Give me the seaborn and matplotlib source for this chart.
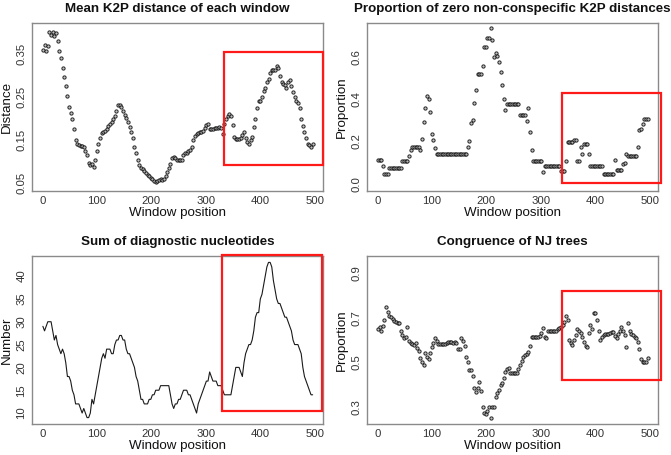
import numpy as np
import pandas as pd
import seaborn as sns
import matplotlib
matplotlib.use("Agg")
import matplotlib.pyplot as plt
from matplotlib.patches import Rectangle

sns.set_style("white")
plt.rcParams['font.family'] = ['Liberation Sans', 'DejaVu Sans']

# ---------------- data (window positions 1, 4, 7, ... 496) ----------------
mean_k2p = [
    0.360, 0.372, 0.358, 0.368, 0.400, 0.395, 0.402, 0.392, 0.398, 0.380,
    0.358, 0.340, 0.318, 0.297, 0.275, 0.252, 0.228, 0.214, 0.200, 0.176,
    0.150, 0.140, 0.139, 0.137, 0.136, 0.134, 0.126, 0.116, 0.098, 0.092,
    0.095, 0.088, 0.105, 0.124, 0.140, 0.155, 0.166, 0.170, 0.171, 0.175,
    0.182, 0.188, 0.192, 0.198, 0.206, 0.218, 0.232, 0.232, 0.226, 0.218,
    0.208, 0.202, 0.193, 0.180, 0.170, 0.155, 0.135, 0.120, 0.105, 0.092,
    0.086, 0.082, 0.078, 0.073, 0.070, 0.066, 0.062, 0.059, 0.056, 0.052,
    0.055, 0.058, 0.060, 0.058, 0.060, 0.066, 0.075, 0.085, 0.095, 0.108,
    0.112, 0.108, 0.104, 0.103, 0.103, 0.104, 0.115, 0.120, 0.120, 0.125,
    0.128, 0.134, 0.150, 0.160, 0.164, 0.166, 0.168, 0.170, 0.172, 0.178,
    0.185, 0.188, 0.175, 0.175, 0.177, 0.178, 0.178, 0.179, 0.180, 0.178,
    0.165, 0.188, 0.200, 0.207, 0.210, 0.206, 0.185, 0.158, 0.152, 0.152,
    0.152, 0.155, 0.162, 0.168, 0.155, 0.145, 0.142, 0.150, 0.158, 0.180,
    0.200, 0.225, 0.240, 0.242, 0.250, 0.265, 0.272, 0.285, 0.292, 0.305,
    0.312, 0.314, 0.312, 0.322, 0.318, 0.300, 0.285, 0.280, 0.278, 0.272,
    0.285, 0.290, 0.275, 0.262, 0.250, 0.240, 0.236, 0.225, 0.200, 0.182,
    0.168, 0.155, 0.142, 0.138, 0.135, 0.142,
]

zero_prop = [
    0.114, 0.114, 0.114, 0.084, 0.044, 0.044, 0.044, 0.074, 0.074, 0.074,
    0.074, 0.074, 0.074, 0.074, 0.074, 0.107, 0.107, 0.107, 0.107, 0.130,
    0.160, 0.174, 0.174, 0.174, 0.174, 0.174, 0.160, 0.210, 0.290, 0.360,
    0.415, 0.400, 0.340, 0.237, 0.205, 0.170, 0.139, 0.139, 0.139, 0.139,
    0.139, 0.139, 0.139, 0.139, 0.139, 0.139, 0.139, 0.139, 0.139, 0.139,
    0.139, 0.139, 0.139, 0.139, 0.139, 0.174, 0.200, 0.285, 0.300, 0.380,
    0.445, 0.518, 0.518, 0.518, 0.556, 0.645, 0.645, 0.690, 0.690, 0.735,
    0.680, 0.600, 0.620, 0.605, 0.577, 0.530, 0.466, 0.400, 0.348, 0.379,
    0.379, 0.379, 0.379, 0.379, 0.379, 0.379, 0.379, 0.327, 0.327, 0.327,
    0.327, 0.297, 0.360, 0.245, 0.158, 0.107, 0.107, 0.107, 0.107, 0.107,
    0.107, 0.055, 0.085, 0.085, 0.085, 0.085, 0.085, 0.085, 0.085, 0.085,
    0.085, 0.085, 0.060, 0.060, 0.060, 0.107, 0.197, 0.197, 0.197, 0.197,
    0.208, 0.208, 0.107, 0.107, 0.174, 0.142, 0.190, 0.190, 0.190, 0.142,
    0.085, 0.085, 0.085, 0.085, 0.085, 0.085, 0.085, 0.085, 0.044, 0.044,
    0.044, 0.044, 0.044, 0.044, 0.044, 0.114, 0.066, 0.066, 0.066, 0.066,
    0.095, 0.100, 0.142, 0.133, 0.133, 0.133, 0.133, 0.133, 0.133, 0.174,
    0.253, 0.260, 0.284, 0.305, 0.305, 0.305,
]

diag_sum = [
    29, 28, 29, 30, 30, 30, 28, 26, 27, 25,
    24, 23, 24, 23, 21, 18, 18, 17, 15, 14,
    12, 12, 12, 11, 10, 11, 10, 9, 9, 10,
    13, 12, 14, 16, 18, 20, 22, 23, 22, 24,
    24, 24, 23, 23, 25, 26, 26, 27, 27, 26,
    26, 24, 23, 23, 22, 21, 20, 18, 17, 15,
    13, 13, 12, 12, 12, 13, 13, 14, 14, 15,
    15, 15, 16, 16, 16, 16, 16, 16, 14, 12,
    11, 12, 12, 13, 13, 14, 15, 15, 15, 14,
    14, 13, 12, 11, 10, 12, 13, 14, 15, 16,
    17, 17, 19, 18, 17, 17, 17, 16, 16, 16,
    15, 14, 14, 14, 14, 14, 16, 18, 20, 20,
    20, 19, 18, 21, 23, 24, 25, 25, 26, 28,
    31, 32, 32, 35, 36, 38, 40, 42, 43, 43,
    42, 39, 37, 35, 34, 34, 33, 32, 31, 31,
    30, 29, 28, 26, 25, 25, 25, 24, 23, 20,
    18, 17, 16, 15, 14, 14,
]

nj_congruence = [
    0.650, 0.660, 0.640, 0.665, 0.690, 0.747, 0.725, 0.710, 0.705, 0.695,
    0.686, 0.680, 0.676, 0.675, 0.640, 0.622, 0.610, 0.612, 0.660, 0.595,
    0.588, 0.582, 0.578, 0.586, 0.565, 0.550, 0.520, 0.500, 0.487, 0.540,
    0.525, 0.515, 0.540, 0.570, 0.588, 0.607, 0.595, 0.583, 0.580, 0.580,
    0.580, 0.581, 0.588, 0.590, 0.590, 0.590, 0.588, 0.590, 0.585, 0.560,
    0.560, 0.607, 0.595, 0.572, 0.525, 0.500, 0.465, 0.465, 0.440, 0.382,
    0.367, 0.385, 0.410, 0.370, 0.300, 0.270, 0.265, 0.280, 0.300, 0.250,
    0.300, 0.300, 0.345, 0.360, 0.375, 0.398, 0.405, 0.430, 0.455, 0.468,
    0.472, 0.450, 0.450, 0.450, 0.450, 0.450, 0.470, 0.488, 0.505, 0.525,
    0.532, 0.535, 0.545, 0.575, 0.612, 0.615, 0.615, 0.615, 0.612, 0.620,
    0.630, 0.652, 0.615, 0.607, 0.640, 0.640, 0.640, 0.640, 0.640, 0.640,
    0.650, 0.655, 0.660, 0.667, 0.680, 0.710, 0.690, 0.600, 0.585, 0.578,
    0.600, 0.622, 0.650, 0.640, 0.630, 0.615, 0.590, 0.575, 0.570, 0.630,
    0.667, 0.650, 0.720, 0.722, 0.690, 0.640, 0.600, 0.615, 0.622, 0.625,
    0.626, 0.628, 0.630, 0.635, 0.637, 0.620, 0.607, 0.625, 0.640, 0.660,
    0.640, 0.622, 0.570, 0.675, 0.640, 0.628, 0.622, 0.615, 0.607, 0.590,
    0.560, 0.515, 0.500, 0.500, 0.502, 0.517,
]

WINDOW_STEP = 3
x_ticks = [0, 100, 200, 300, 400, 500]

titles = ["Mean K2P distance of each window",
          "Proportion of zero non-conspecific K2P distances",
          "Sum of diagnostic nucleotides",
          "Congruence of NJ trees"]
ylabels = ["Distance", "Proportion", "Number", "Proportion"]
y_ticks = [[0.05, 0.15, 0.25, 0.35], [0.0, 0.2, 0.4, 0.6],
           [10, 15, 20, 25, 30, 35, 40], [0.3, 0.5, 0.7, 0.9]]
y_ticklabels = [["0.05", "0.15", "0.25", "0.35"], ["0.0", "0.2", "0.4", "0.6"],
                ["10", "15", "20", "25", "30", "35", "40"], ["0.3", "0.5", "0.7", "0.9"]]
y_lims = [(0.032, 0.422), (-0.035, 0.761), (7.6, 44.4), (0.222, 0.978)]
# highlighted regions (x0, x1, y0, y1)
highlight = [(333, 515, 0.0925, 0.354), (339, 520, 0.005, 0.431),
             (330, 513, 10.44, 44.66), (339, 520, 0.422, 0.822)]

series = [mean_k2p, zero_prop, diag_sum, nj_congruence]

# ---------------- figure ----------------
W, H = 671, 455
fig = plt.figure(figsize=(W / 100, H / 100), dpi=100)
boxes = [(32, 23), (367, 23), (32, 256), (367, 256)]
aw, ah = 291, 168

for i, vals in enumerate(series):
    l, t = boxes[i]
    ax = fig.add_axes([l / W, 1 - (t + ah) / H, aw / W, ah / H])
    df = pd.DataFrame({"window": 1 + WINDOW_STEP * np.arange(len(vals)), "value": vals})
    if i == 2:
        sns.lineplot(data=df, x="window", y="value", ax=ax, color="#1a1a1a",
                     linewidth=0.8, estimator=None, sort=False)
    else:
        sns.scatterplot(data=df, x="window", y="value", ax=ax, marker="o",
                        s=5.5, facecolor="#bdbdbd", edgecolor="#111111",
                        linewidth=0.7, alpha=0.9)
    ax.set_xlim(-19, 515)
    ax.set_ylim(*y_lims[i])
    ax.set_xticks(x_ticks)
    ax.set_xticklabels([str(v) for v in x_ticks])
    ax.set_yticks(y_ticks[i])
    ax.set_yticklabels(y_ticklabels[i], rotation=90, va="center")
    ax.tick_params(axis="both", length=2.4, width=0.7, color="#555555",
                   labelsize=8.2, pad=1.5, labelcolor="#333333", direction="out")
    for sp in ax.spines.values():
        sp.set_color("#8a8a8a")
        sp.set_linewidth(1.0)
    ax.set_xlabel("Window position", fontsize=9.6, labelpad=0.5, color="#111111")
    ax.set_ylabel(ylabels[i], fontsize=9.6, labelpad=3, color="#111111")
    ax.set_title(titles[i], fontsize=9.6, fontweight="bold", pad=8, color="#111111")
    x0, x1, y0, y1 = highlight[i]
    ax.add_patch(Rectangle((x0, y0), x1 - x0, y1 - y0, fill=False,
                           edgecolor="#ff1a1a", linewidth=1.6, clip_on=False, zorder=5))

fig.savefig("out.png", dpi=100)
